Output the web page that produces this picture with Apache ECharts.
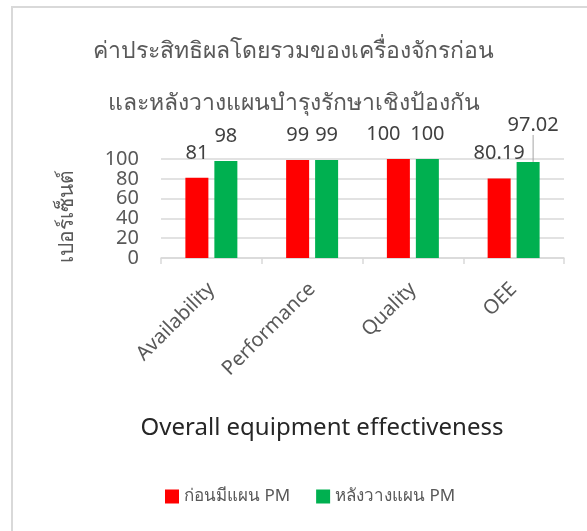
<!DOCTYPE html>
<html>
<head>
<meta charset="utf-8">
<script src="https://cdn.jsdelivr.net/npm/echarts@6/dist/echarts.min.js"></script>
<style>
html,body{margin:0;padding:0;background:#fff;}
#chart{width:587px;height:531px;}
</style>
</head>
<body>
<div id="chart"></div>
<script>
const titleText = 'ค่าประสิทธิผลโดยรวมของเครื่องจักรก่อน\nและหลังวางแผนบำรุงรักษาเชิงป้องกัน';
const categories = ['Availability', 'Performance', 'Quality', 'OEE'];
const beforePM = [81, 99, 100, 80.19];
const afterPM = [98, 99, 100, 97.02];
const seriesNames = ['ก่อนมีแผน PM', 'หลังวางแผน PM'];
const yAxisName = 'เปอร์เซ็นต์';
const xAxisName = 'Overall equipment effectiveness';

const FONT = "'Segoe UI', 'Leelawadee UI', 'Noto Sans', 'Open Sans', sans-serif";
const chart = echarts.init(document.getElementById('chart'));
const labelCfg = {
  show: true, position: 'top', distance: 15,
  fontSize: 20, color: '#404040', fontFamily: FONT
};
const afterData = afterPM.map(function (v, i) {
  return i === 3 ? { value: v, labelLine: { show: true, lineStyle: { color: '#a6a6a6', width: 1 } } } : v;
});
function yAxisCfg(showEven, grid) {
  return {
    type: 'value', min: 0, max: 100, interval: 20, position: 'left',
    axisLine: { show: false }, axisTick: { show: false },
    splitLine: { show: grid, lineStyle: { color: '#d9d9d9', width: 1.5 } },
    axisLabel: {
      fontSize: 20, color: '#595959', margin: 22, fontFamily: FONT,
      showMinLabel: true, showMaxLabel: true, hideOverlap: false,
      formatter: function (v) { return ((v / 20) % 2 === 0) === showEven ? String(v) : ''; }
    }
  };
}
chart.setOption({
  animation: false,
  backgroundColor: '#fff',
  title: {
    text: titleText, left: 'center', top: 20,
    textStyle: { fontSize: 23, lineHeight: 52, color: '#595959', fontWeight: 'normal', fontFamily: FONT }
  },
  legend: {
    bottom: 21, left: 160, itemWidth: 14, itemHeight: 14, itemGap: 26,
    icon: 'rect',
    textStyle: { fontSize: 17, color: '#595959', fontFamily: FONT },
    data: seriesNames
  },
  grid: { left: 161, right: 23, top: 159, bottom: 273 },
  xAxis: {
    type: 'category', data: categories,
    axisLine: { lineStyle: { color: '#d9d9d9', width: 1.5 } },
    axisTick: { show: true, length: 6, lineStyle: { color: '#d9d9d9', width: 1.5 } },
    axisLabel: { rotate: 45, fontSize: 20, color: '#595959', margin: 28, fontFamily: FONT, interval: 0 }
  },
  yAxis: [yAxisCfg(true, true), yAxisCfg(false, false)],
  graphic: [
    { type: 'rect', shape: { x: 12, y: 7, width: 700, height: 700 }, style: { fill: 'none', stroke: '#d9d9d9', lineWidth: 2 }, silent: true },
    { type: 'text', x: 67, y: 216, rotation: Math.PI / 2,
      style: { text: yAxisName, fontSize: 21, fill: '#595959', fontFamily: FONT, align: 'center', verticalAlign: 'middle' } },
    { type: 'text', x: 322, y: 428,
      style: { text: xAxisName, fontSize: 24, fill: '#262626', fontFamily: FONT, align: 'center', verticalAlign: 'middle' } }
  ],
  series: [
    { name: seriesNames[0], type: 'bar', data: beforePM, barWidth: 23, barGap: '26%',
      itemStyle: { color: '#ff0000' }, label: labelCfg },
    { name: seriesNames[1], type: 'bar', data: afterData, barWidth: 23, barGap: '26%',
      itemStyle: { color: '#00b050' }, label: labelCfg }
  ],
  labelLayout: function (p) {
    if (p.seriesIndex === 1 && p.dataIndex === 3) return { dx: 5, dy: -12 };
    if (p.seriesIndex === 0 && p.dataIndex === 2) return { dx: -15 };
    return {};
  }
});
</script>
</body>
</html>
